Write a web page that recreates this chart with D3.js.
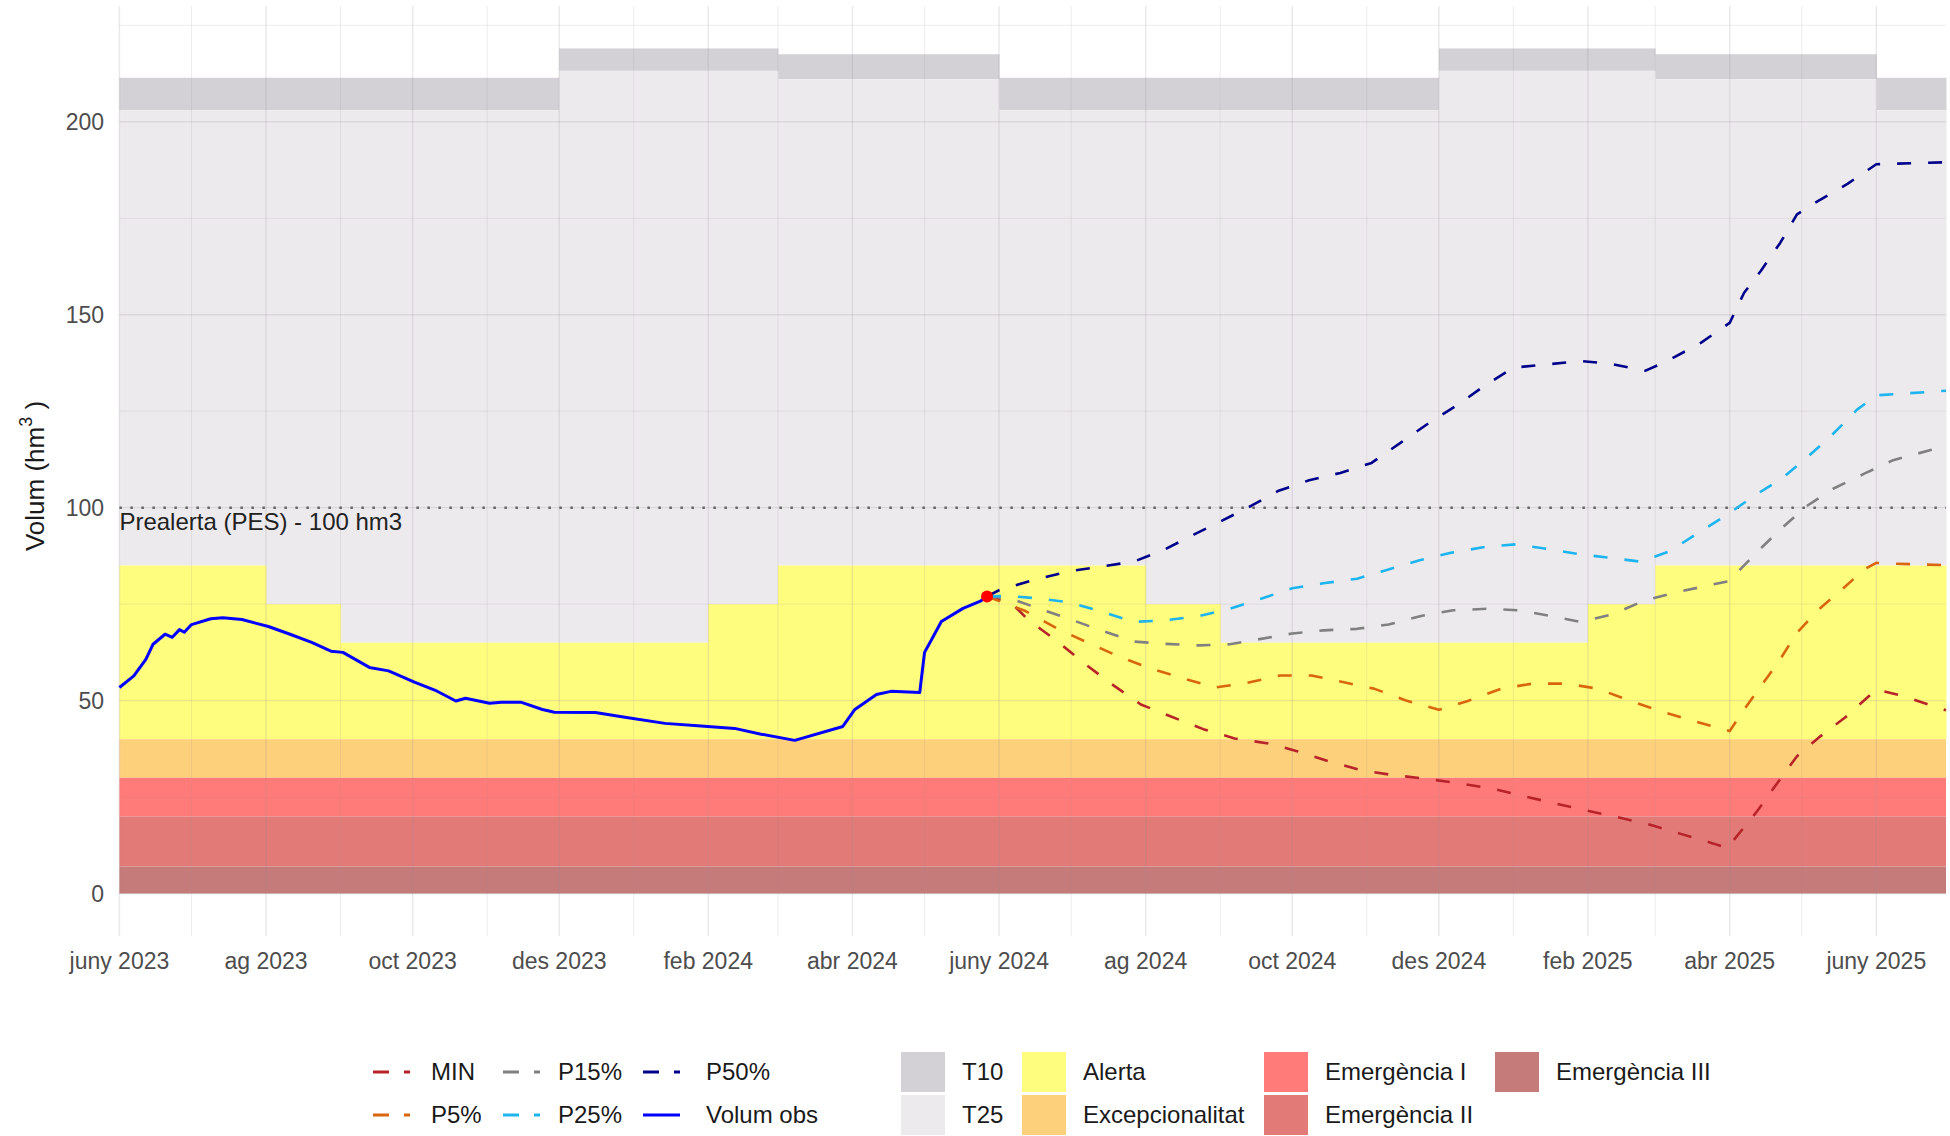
<!DOCTYPE html>
<html>
<head>
<meta charset="utf-8">
<script src="https://cdn.jsdelivr.net/npm/d3@7/dist/d3.min.js"></script>
<style>
  body { margin: 0; background: #fff; }
  svg text { font-family: "Liberation Sans", Arial, sans-serif; }
</style>
</head>
<body>
<svg id="chart" width="1950" height="1136"></svg>
<script>
// observed volume (hm3)
const obs = [
  ['2023-06-01', 53.4], ['2023-06-07', 56.4], ['2023-06-12', 60.7], ['2023-06-15', 64.6], ['2023-06-20', 67.2],
  ['2023-06-23', 66.4], ['2023-06-26', 68.4], ['2023-06-28', 67.7], ['2023-07-01', 69.7], ['2023-07-09', 71.2],
  ['2023-07-14', 71.5], ['2023-07-22', 71], ['2023-08-02', 69.2], ['2023-08-11', 67.2], ['2023-08-20', 65.1],
  ['2023-08-28', 62.8], ['2023-09-02', 62.5], ['2023-09-13', 58.6], ['2023-09-21', 57.7], ['2023-10-02', 54.7],
  ['2023-10-11', 52.5], ['2023-10-19', 49.9], ['2023-10-23', 50.6], ['2023-11-02', 49.3], ['2023-11-07', 49.6],
  ['2023-11-15', 49.6], ['2023-11-24', 47.7], ['2023-11-29', 47], ['2023-12-16', 46.9], ['2023-12-29', 45.6],
  ['2024-01-14', 44.1], ['2024-01-29', 43.4], ['2024-02-12', 42.8], ['2024-02-23', 41.3], ['2024-03-08', 39.7],
  ['2024-03-28', 43.3], ['2024-04-02', 47.7], ['2024-04-11', 51.6], ['2024-04-17', 52.4], ['2024-04-29', 52.1],
  ['2024-05-01', 62.5], ['2024-05-04', 65.9], ['2024-05-08', 70.5], ['2024-05-17', 73.9], ['2024-05-24', 75.7],
  ['2024-05-27', 77]
];

// projections
const pMin = [
  ['2024-05-27', 77], ['2024-06-06', 75.4], ['2024-06-13', 71], ['2024-06-26', 65], ['2024-07-07', 59.4],
  ['2024-07-18', 54.2], ['2024-07-30', 49], ['2024-08-11', 46], ['2024-08-25', 42.6], ['2024-09-07', 40.2],
  ['2024-09-21', 38.9], ['2024-10-03', 36.9], ['2024-10-16', 34.3], ['2024-10-30', 31.9], ['2024-11-12', 30.7],
  ['2024-11-25', 29.8], ['2024-12-09', 28.6], ['2024-12-23', 27.2], ['2025-01-05', 25.3], ['2025-01-18', 23.4],
  ['2025-01-31', 21.6], ['2025-02-14', 19.7], ['2025-02-27', 17.8], ['2025-03-12', 15.4], ['2025-03-25', 13],
  ['2025-03-31', 11.8], ['2025-04-12', 21], ['2025-04-21', 28.8], ['2025-04-29', 35.6], ['2025-05-08', 40.4],
  ['2025-05-19', 45.6], ['2025-06-01', 52.9], ['2025-06-12', 51.2], ['2025-06-30', 47.5]
];
const p5 = [
  ['2024-05-27', 77], ['2024-06-12', 73.2], ['2024-06-26', 68.4], ['2024-07-08', 65], ['2024-07-21', 61.4],
  ['2024-08-03', 58.3], ['2024-08-17', 55.7], ['2024-08-30', 53.4], ['2024-09-12', 54.6], ['2024-09-26', 56.5],
  ['2024-10-09', 56.5], ['2024-10-22', 54.8], ['2024-11-04', 53.1], ['2024-11-17', 50.1], ['2024-12-01', 47.6],
  ['2024-12-13', 49.9], ['2024-12-27', 53.1], ['2025-01-09', 54.4], ['2025-01-23', 54.4], ['2025-02-05', 53.1],
  ['2025-02-18', 50.1], ['2025-03-03', 47.3], ['2025-03-16', 44.9], ['2025-04-01', 42.1], ['2025-04-07', 47.7],
  ['2025-04-15', 54.6], ['2025-04-22', 60.7], ['2025-04-29', 67.6], ['2025-05-08', 73.6], ['2025-05-17', 78.4],
  ['2025-05-27', 84], ['2025-06-01', 85.7], ['2025-06-08', 85.5], ['2025-06-30', 85.1]
];
const p15 = [
  ['2024-05-27', 77], ['2024-06-05', 76.6], ['2024-06-17', 74], ['2024-06-30', 71.2], ['2024-07-13', 68.3],
  ['2024-07-27', 65.3], ['2024-08-09', 64.7], ['2024-08-23', 64.3], ['2024-09-05', 64.6], ['2024-09-18', 66],
  ['2024-10-01', 67.4], ['2024-10-14', 68.2], ['2024-10-28', 68.6], ['2024-11-10', 69.7], ['2024-11-24', 72],
  ['2024-12-07', 73.4], ['2024-12-21', 73.8], ['2025-01-03', 73.4], ['2025-01-17', 71.9], ['2025-01-29', 70.4],
  ['2025-02-11', 72.3], ['2025-02-24', 75.8], ['2025-03-08', 77.8], ['2025-03-22', 79.7], ['2025-04-01', 81],
  ['2025-04-04', 83.1], ['2025-04-12', 88.3], ['2025-04-22', 94.3], ['2025-05-03', 100.4], ['2025-05-14', 104.9],
  ['2025-05-27', 108.8], ['2025-06-08', 112.3], ['2025-06-24', 115], ['2025-06-30', 116]
];
const p25 = [
  ['2024-05-27', 77], ['2024-06-05', 77.1], ['2024-06-17', 76.5], ['2024-06-30', 75.5], ['2024-07-13', 73.2],
  ['2024-07-27', 70.4], ['2024-08-09', 70.8], ['2024-08-23', 71.9], ['2024-09-05', 73.8], ['2024-09-18', 76.4],
  ['2024-10-01', 79.1], ['2024-10-14', 80.4], ['2024-10-28', 81.6], ['2024-11-09', 83.8], ['2024-11-23', 86.4],
  ['2024-12-06', 88.3], ['2024-12-20', 89.8], ['2025-01-02', 90.5], ['2025-01-15', 89.3], ['2025-01-28', 88],
  ['2025-02-10', 87], ['2025-02-23', 86], ['2025-03-07', 88.7], ['2025-03-19', 93.5], ['2025-03-31', 98.2],
  ['2025-04-11', 103], ['2025-04-23', 107.7], ['2025-05-03', 112.9], ['2025-05-13', 118.5], ['2025-05-24', 125.4],
  ['2025-06-01', 129.1], ['2025-06-30', 130.3]
];
const p50 = [
  ['2024-05-27', 77], ['2024-06-01', 78.6], ['2024-06-14', 81], ['2024-06-30', 83.5], ['2024-07-13', 84.7],
  ['2024-07-27', 86], ['2024-08-09', 89.2], ['2024-08-21', 93], ['2024-09-02', 96.7], ['2024-09-14', 100.5],
  ['2024-09-25', 104.3], ['2024-10-08', 107.1], ['2024-10-21', 109], ['2024-11-03', 111.6], ['2024-11-15', 116.8],
  ['2024-11-27', 122], ['2024-12-09', 126.7], ['2024-12-20', 131.6], ['2025-01-01', 136.3], ['2025-01-13', 137],
  ['2025-01-29', 138], ['2025-02-10', 137.3], ['2025-02-25', 135.5], ['2025-03-06', 138], ['2025-03-20', 142.7],
  ['2025-04-01', 147.9], ['2025-04-07', 155.7], ['2025-04-14', 161.4], ['2025-04-22', 168.6], ['2025-04-29', 176],
  ['2025-05-06', 178.8], ['2025-05-20', 183.9], ['2025-06-01', 189], ['2025-06-30', 189.5]
];

// threshold periods (start dates, the last one closes the range)
const periodBounds = ['2023-06-01', '2023-08-01', '2023-09-01', '2023-12-01', '2024-02-01', '2024-03-01', '2024-06-01',
  '2024-08-01', '2024-09-01', '2024-12-01', '2025-02-01', '2025-03-01', '2025-06-01', '2025-06-30'];
const alertaLevel = [85, 75, 65, 65, 75, 85, 85, 75, 65, 65, 75, 85, 85];
const t25Level = [203, 203, 203, 213.2, 213.2, 211, 203, 203, 203, 213.2, 213.2, 211, 203];
const t10Level = [211.4, 211.4, 211.4, 219, 219, 217.5, 211.4, 211.4, 211.4, 219, 219, 217.5, 211.4];

// fixed bands: [name, low, high]
const fixedBands = [['Excepcionalitat', 30, 40], ['Emergència I', 20, 30], ['Emergència II', 7, 20], ['Emergència III', 0, 7]];

const tickLabels = ['juny 2023', 'ag 2023', 'oct 2023', 'des 2023', 'feb 2024', 'abr 2024', 'juny 2024',
  'ag 2024', 'oct 2024', 'des 2024', 'feb 2025', 'abr 2025', 'juny 2025'];
const yTicks = [0, 50, 100, 150, 200];

const fillColor = {
  'T10': '#d3d1d5',
  'T25': '#edeaee',
  'Alerta': '#fefd7e',
  'Excepcionalitat': '#fdd07c',
  'Emergència I': '#ff7b79',
  'Emergència II': '#e27b78',
  'Emergència III': '#c57b7a'
};

const parse = d3.utcParse('%Y-%m-%d');

const svg = d3.select('#chart');
const plotLeft = 119.4, plotRight = 1946, plotTop = 6, plotBottom = 936;

const x = d3.scaleUtc()
  .domain([parse('2023-06-01'), parse('2025-06-30')])
  .range([plotLeft, plotRight]);
const y = d3.scaleLinear().domain([-11, 230]).range([plotBottom, plotTop]);

// background bands
const bands = svg.append('g');
const periods = alertaLevel.map((a, i) => ({
  x0: parse(periodBounds[i]), x1: parse(periodBounds[i + 1]),
  alerta: a, t25: t25Level[i], t10: t10Level[i]
}));

bands.selectAll('.t10').data(periods).enter().append('rect')
  .attr('x', (d) => x(d.x0)).attr('width', (d) => x(d.x1) - x(d.x0) + 0.5)
  .attr('y', (d) => y(d.t10)).attr('height', (d) => y(d.t25) - y(d.t10))
  .attr('fill', fillColor['T10']);

bands.selectAll('.t25').data(periods).enter().append('rect')
  .attr('x', (d) => x(d.x0)).attr('width', (d) => x(d.x1) - x(d.x0) + 0.5)
  .attr('y', (d) => y(d.t25)).attr('height', (d) => y(d.alerta) - y(d.t25))
  .attr('fill', fillColor['T25']);

bands.selectAll('.alerta').data(periods).enter().append('rect')
  .attr('x', (d) => x(d.x0)).attr('width', (d) => x(d.x1) - x(d.x0) + 0.5)
  .attr('y', (d) => y(d.alerta)).attr('height', (d) => y(40) - y(d.alerta))
  .attr('fill', fillColor['Alerta']);

bands.selectAll('.fixed').data(fixedBands).enter().append('rect')
  .attr('x', plotLeft).attr('width', plotRight - plotLeft)
  .attr('y', (d) => y(d[2])).attr('height', (d) => y(d[1]) - y(d[2]))
  .attr('fill', (d) => fillColor[d[0]]);

// grid on top of the bands, faint
const grid = svg.append('g').attr('stroke', 'rgb(150,140,150)').attr('stroke-opacity', 0.2);
const months = d3.utcMonth.range(parse('2023-06-01'), parse('2025-06-02'));
grid.selectAll('.vx').data(months).enter().append('line')
  .attr('x1', (d) => x(d)).attr('x2', (d) => x(d))
  .attr('y1', plotTop).attr('y2', plotBottom)
  .attr('stroke-width', (d, i) => (i % 2 === 0 ? 1.4 : 0.8));
grid.selectAll('.hy').data(d3.range(0, 226, 25)).enter().append('line')
  .attr('x1', plotLeft).attr('x2', plotRight)
  .attr('y1', (d) => y(d)).attr('y2', (d) => y(d))
  .attr('stroke-width', (d) => (d % 50 === 0 ? 1.4 : 0.8));

// x labels
const xLabels = months.filter((d, i) => i % 2 === 0);
svg.append('g').selectAll('text').data(xLabels).enter().append('text')
  .attr('x', (d) => x(d)).attr('y', 969)
  .attr('text-anchor', 'middle')
  .attr('font-size', 23).attr('fill', '#4d4d4d')
  .text((d, i) => tickLabels[i]);

// y labels
svg.append('g').selectAll('text').data(yTicks).enter().append('text')
  .attr('x', 104).attr('y', (d) => y(d) + 8)
  .attr('text-anchor', 'end')
  .attr('font-size', 23).attr('fill', '#4d4d4d')
  .text((d) => d);

// y title
const yTitle = svg.append('text')
  .attr('transform', 'translate(44,476) rotate(-90)')
  .attr('text-anchor', 'middle')
  .attr('font-size', 26).attr('fill', '#1a1a1a');
yTitle.append('tspan').text('Volum (hm');
yTitle.append('tspan').attr('font-size', 18).attr('dy', -12).text('3');
yTitle.append('tspan').attr('dy', 12).text(' )');

// prealerta line
svg.append('line')
  .attr('x1', plotLeft).attr('x2', plotRight)
  .attr('y1', y(100)).attr('y2', y(100))
  .attr('stroke', '#666').attr('stroke-width', 2.5)
  .attr('stroke-dasharray', '2.5,8.5');
svg.append('text')
  .attr('x', plotLeft).attr('y', y(100) + 22)
  .attr('font-size', 24).attr('fill', '#222')
  .text('Prealerta (PES) - 100 hm3');

// series
const series = [
  { name: 'MIN', data: pMin, color: '#b8232a', dash: true },
  { name: 'P5%', data: p5, color: '#d9650c', dash: true },
  { name: 'P15%', data: p15, color: '#808080', dash: true },
  { name: 'P25%', data: p25, color: '#1eb4ee', dash: true },
  { name: 'P50%', data: p50, color: '#00008b', dash: true },
  { name: 'Volum obs', data: obs, color: '#0000ff', dash: false }
];

const line = d3.line()
  .x((d) => x(parse(d[0])))
  .y((d) => y(d[1]));

svg.append('g').selectAll('path').data(series).enter().append('path')
  .attr('d', (d) => line(d.data))
  .attr('fill', 'none')
  .attr('stroke', (d) => d.color)
  .attr('stroke-width', (d) => (d.dash ? 2.6 : 3))
  .attr('stroke-linejoin', 'round')
  .attr('stroke-dasharray', (d) => (d.dash ? '14,17' : null));

// last observation
const lastObs = obs[obs.length - 1];
svg.append('circle')
  .attr('cx', x(parse(lastObs[0]))).attr('cy', y(lastObs[1]))
  .attr('r', 6).attr('fill', '#ff0000');

// legend: lines
const lineLegendOrder = ['MIN', 'P15%', 'P50%', 'P5%', 'P25%', 'Volum obs'];
const lineKeyX = [373, 503, 643];
const lineTextX = [431, 558, 706];
const rowY = [1072, 1115];

const lineLegend = svg.append('g').selectAll('g')
  .data(lineLegendOrder.map((n) => series.find((s) => s.name === n)))
  .enter().append('g')
  .attr('transform', (d, i) => `translate(0,${rowY[Math.floor(i / 3)]})`);
lineLegend.append('line')
  .attr('x1', (d, i) => lineKeyX[i % 3]).attr('x2', (d, i) => lineKeyX[i % 3] + 37)
  .attr('stroke', (d) => d.color).attr('stroke-width', 3)
  .attr('stroke-dasharray', (d) => (d.dash ? '16,15' : null));
lineLegend.append('text')
  .attr('x', (d, i) => lineTextX[i % 3]).attr('y', 8)
  .attr('font-size', 24).attr('fill', '#1a1a1a')
  .text((d) => d.name);

// legend: fills
const fillLegendOrder = ['T10', 'T25', 'Alerta', 'Excepcionalitat', 'Emergència I', 'Emergència II', 'Emergència III'];
const fillKeyX = [901, 1022, 1264, 1495];
const fillLegend = svg.append('g').selectAll('g')
  .data(fillLegendOrder)
  .enter().append('g')
  .attr('transform', (d, i) => `translate(${fillKeyX[Math.floor(i / 2)]},${rowY[i % 2]})`);
fillLegend.append('rect')
  .attr('x', 0).attr('y', -20).attr('width', 44).attr('height', 40)
  .attr('fill', (d) => fillColor[d]);
fillLegend.append('text')
  .attr('x', 61).attr('y', 8)
  .attr('font-size', 24).attr('fill', '#1a1a1a')
  .text((d) => d);
</script>
</body>
</html>
